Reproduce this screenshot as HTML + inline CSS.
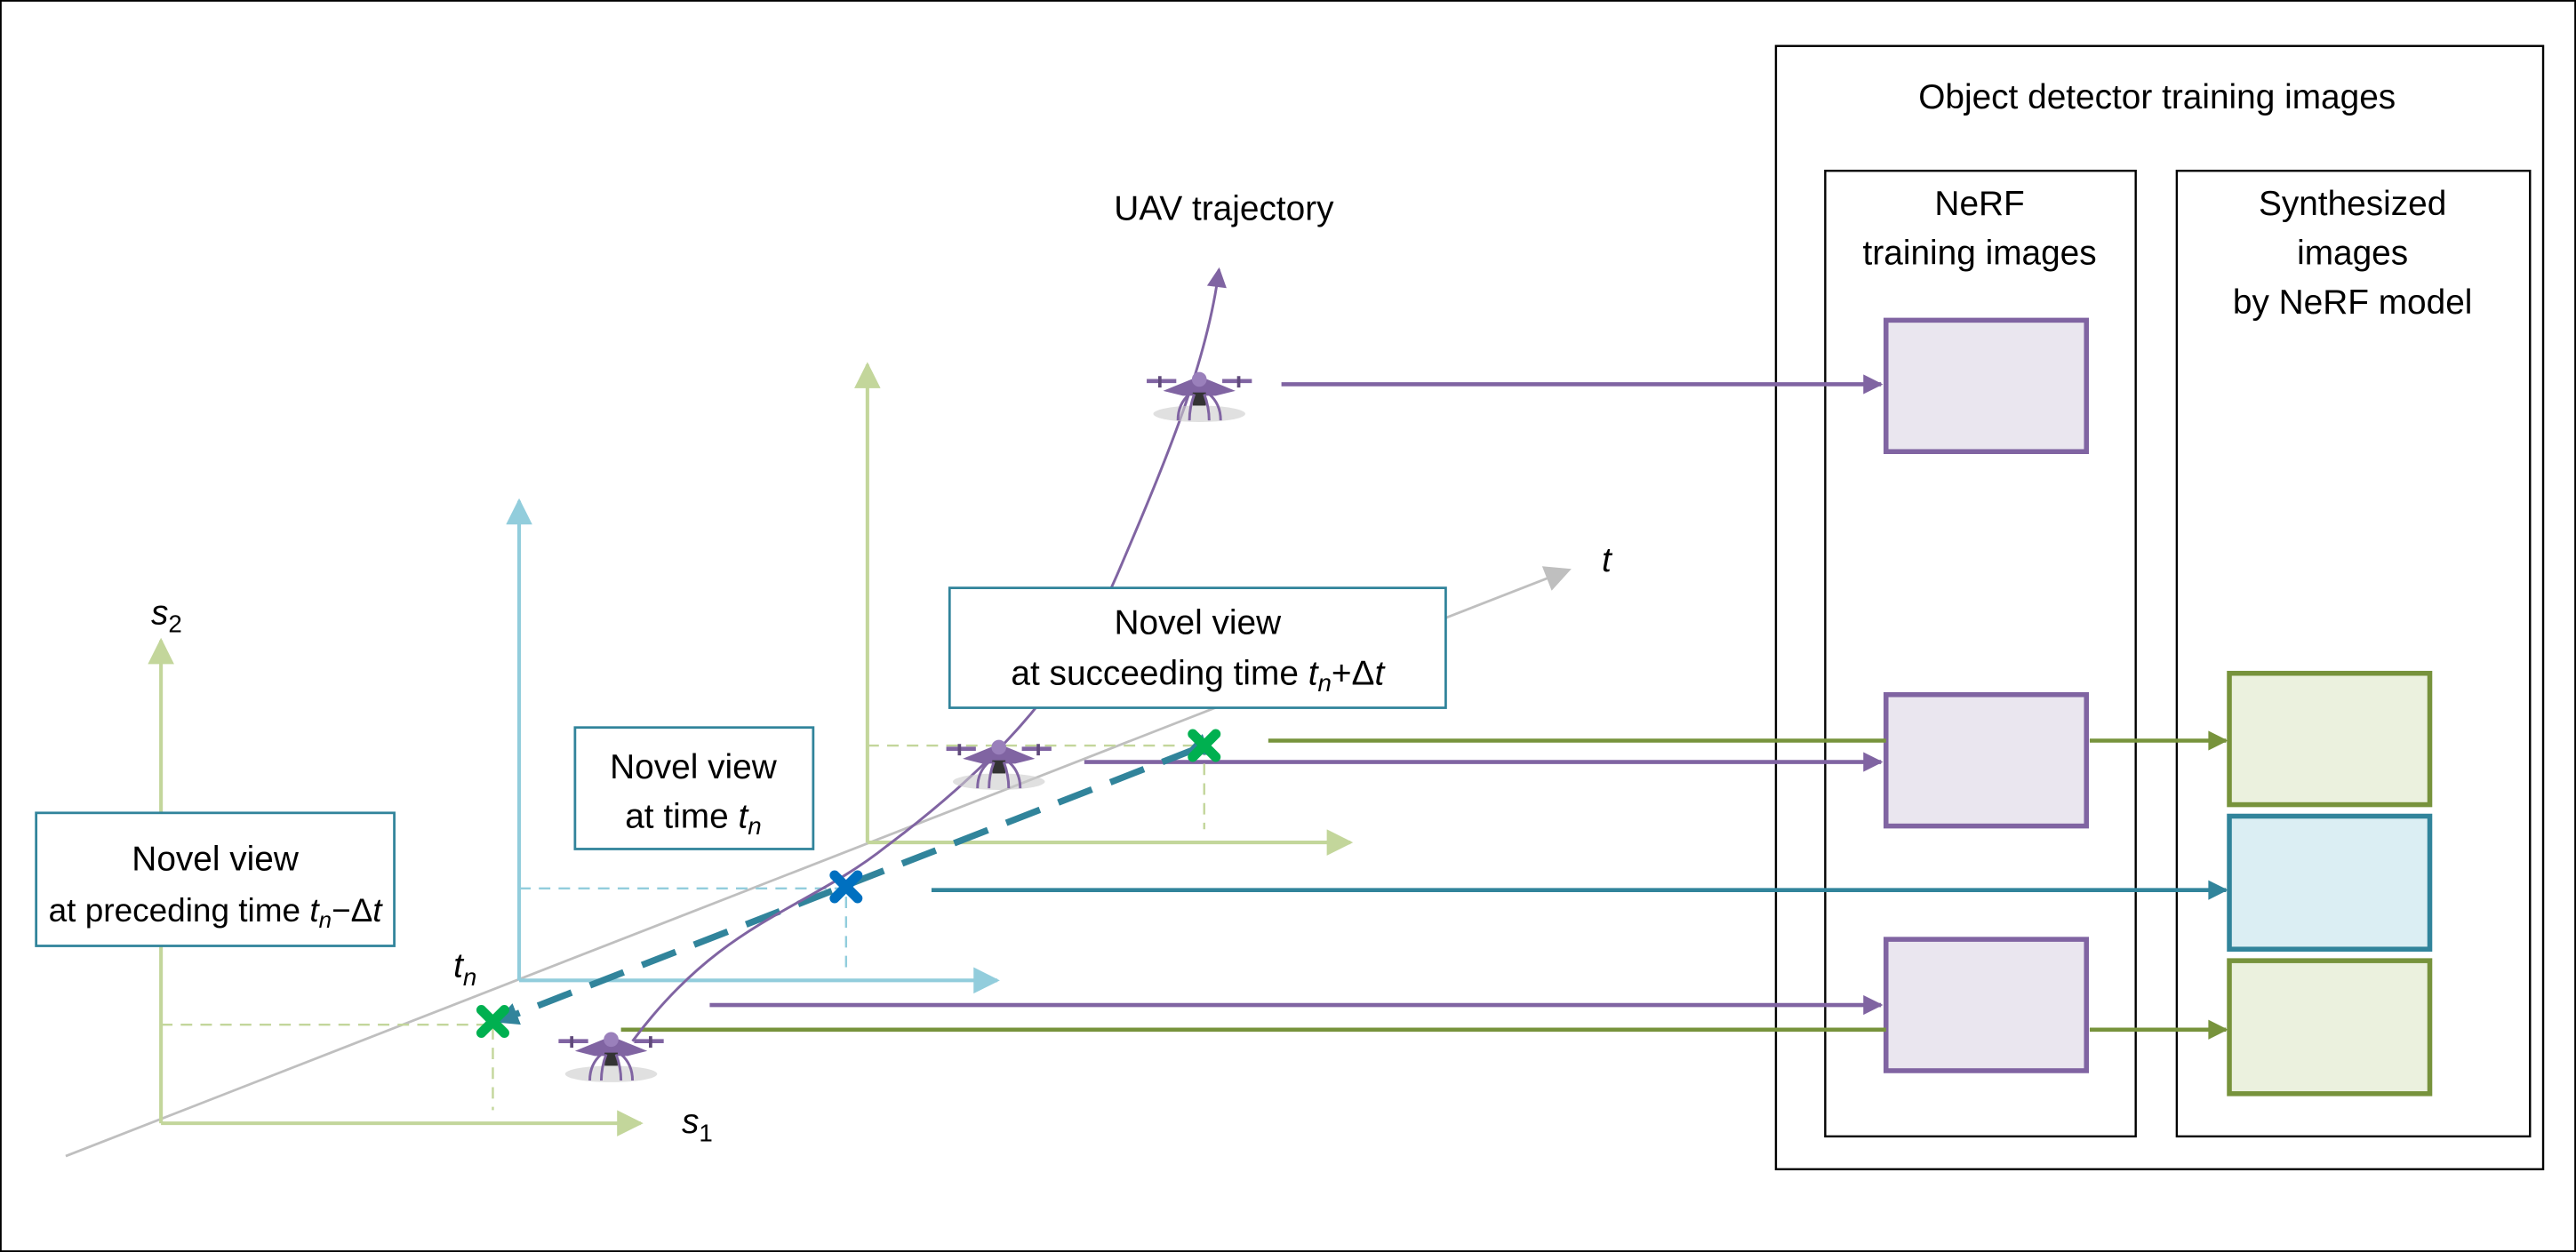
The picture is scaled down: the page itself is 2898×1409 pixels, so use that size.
<!DOCTYPE html>
<html><head><meta charset="utf-8"><style>html,body{margin:0;padding:0;background:#fff}svg{display:block}text{font-family:"Liberation Sans",sans-serif;fill:#000}</style></head><body>
<svg width="2898" height="1409" viewBox="0 0 1568 762.4" preserveAspectRatio="none" xmlns="http://www.w3.org/2000/svg">
<defs>
<marker id="pu" viewBox="0 0 10 10" refX="9" refY="5" markerWidth="14" markerHeight="12" orient="auto" markerUnits="userSpaceOnUse"><path d="M0,0L10,5L0,10z" fill="#8064a2"/></marker>
<marker id="gr" viewBox="0 0 10 10" refX="9" refY="5" markerWidth="14" markerHeight="12" orient="auto" markerUnits="userSpaceOnUse"><path d="M0,0L10,5L0,10z" fill="#77933c"/></marker>
<marker id="te" viewBox="0 0 10 10" refX="9" refY="5" markerWidth="14" markerHeight="12" orient="auto" markerUnits="userSpaceOnUse"><path d="M0,0L10,5L0,10z" fill="#31849b"/></marker>
<marker id="lg" viewBox="0 0 10 10" refX="9" refY="5" markerWidth="18" markerHeight="16" orient="auto" markerUnits="userSpaceOnUse"><path d="M0,0L10,5L0,10z" fill="#c3d69b"/></marker>
<marker id="lb" viewBox="0 0 10 10" refX="9" refY="5" markerWidth="18" markerHeight="16" orient="auto" markerUnits="userSpaceOnUse"><path d="M0,0L10,5L0,10z" fill="#92cddc"/></marker>
<marker id="gy" viewBox="0 0 10 10" refX="9" refY="5" markerWidth="18" markerHeight="16" orient="auto" markerUnits="userSpaceOnUse"><path d="M0,0L10,5L0,10z" fill="#bfbfbf"/></marker>
<marker id="td" viewBox="0 0 10 10" refX="5" refY="5" markerWidth="14" markerHeight="14" orient="auto" markerUnits="userSpaceOnUse"><path d="M0,0L10,5L0,10z" fill="#31849b"/></marker>
<g id="drone">
<ellipse cx="0" cy="16" rx="28" ry="5" fill="#ccc" opacity="0.6"/>
<path d="M-32,-4H-14M14,-4H32" stroke="#8064a2" stroke-width="2.5"/>
<path d="M-24,-7v7M24,-7v7" stroke="#604a7b" stroke-width="2"/>
<path d="M-22,2L0,-7L22,2L10,5L-10,5z" fill="#8064a2"/>
<circle cx="0" cy="-5" r="4.5" fill="#9a80bb"/>
<rect x="-4" y="3" width="8" height="8" fill="#333"/>
<path d="M-6,4Q-13,10-13,20M6,4Q13,10,13,20M-3,4Q-6,12-6,20M3,4Q6,12,6,20" stroke="#8064a2" stroke-width="1.6" fill="none"/>
</g>
</defs>
<rect x="0.5" y="0.5" width="1567" height="761.4" fill="none" stroke="#000" stroke-width="1"/>

<rect x="1081" y="28" width="467" height="684" fill="none" stroke="#000" stroke-width="1.3"/>
<text x="1313" y="66" font-size="21" text-anchor="middle">Object detector training images</text>
<rect x="1111" y="104" width="189" height="588" fill="none" stroke="#000" stroke-width="1.3"/>
<text x="1205" y="131" font-size="21" text-anchor="middle">NeRF</text>
<text x="1205" y="161" font-size="21" text-anchor="middle">training images</text>
<rect x="1325" y="104" width="215" height="588" fill="none" stroke="#000" stroke-width="1.3"/>
<text x="1432" y="131" font-size="21" text-anchor="middle">Synthesized</text>
<text x="1432" y="161" font-size="21" text-anchor="middle">images</text>
<text x="1432" y="191" font-size="21" text-anchor="middle">by NeRF model</text>
<g stroke-width="3">
<rect x="1148" y="195" width="122" height="80" fill="#eae6ef" stroke="#8064a2"/>
<rect x="1148" y="423" width="122" height="80" fill="#eae6ef" stroke="#8064a2"/>
<rect x="1148" y="572" width="122" height="80" fill="#eae6ef" stroke="#8064a2"/>
<rect x="1357" y="410" width="122" height="80" fill="#ebf1de" stroke="#77933c"/>
<rect x="1357" y="497" width="122" height="81" fill="#dbeef3" stroke="#31849b"/>
<rect x="1357" y="585" width="122" height="81" fill="#ebf1de" stroke="#77933c"/>
</g>
<g stroke-width="2.5" fill="none">
<line x1="780" y1="234" x2="1145" y2="234" stroke="#8064a2" marker-end="url(#pu)"/>
<line x1="772" y1="451" x2="1148" y2="451" stroke="#77933c"/>
<line x1="1272" y1="451" x2="1355" y2="451" stroke="#77933c" marker-end="url(#gr)"/>
<line x1="660" y1="464" x2="1145" y2="464" stroke="#8064a2" marker-end="url(#pu)"/>
<line x1="567" y1="542" x2="1355" y2="542" stroke="#31849b" marker-end="url(#te)"/>
<line x1="432" y1="612" x2="1145" y2="612" stroke="#8064a2" marker-end="url(#pu)"/>
<line x1="378" y1="627" x2="1148" y2="627" stroke="#77933c"/>
<line x1="1272" y1="627" x2="1355" y2="627" stroke="#77933c" marker-end="url(#gr)"/>
</g>

<line x1="40" y1="704" x2="955" y2="347" stroke="#bfbfbf" stroke-width="1.5" marker-end="url(#gy)"/>
<text x="975" y="348" font-size="21" font-style="italic">t</text>
<g stroke-width="2.2" fill="none">
<line x1="98" y1="684" x2="98" y2="390" stroke="#c3d69b" marker-end="url(#lg)"/>
<line x1="98" y1="684" x2="390" y2="684" stroke="#c3d69b" marker-end="url(#lg)"/>
<line x1="316" y1="597" x2="316" y2="305" stroke="#92cddc" marker-end="url(#lb)"/>
<line x1="316" y1="597" x2="607" y2="597" stroke="#92cddc" marker-end="url(#lb)"/>
<line x1="528" y1="513" x2="528" y2="222" stroke="#c3d69b" marker-end="url(#lg)"/>
<line x1="528" y1="513" x2="822" y2="513" stroke="#c3d69b" marker-end="url(#lg)"/>
</g>
<text x="92" y="380" font-size="21" font-style="italic">s<tspan font-size="15" font-style="normal" dy="5">2</tspan></text>
<text x="415" y="690" font-size="21" font-style="italic">s<tspan font-size="15" font-style="normal" dy="5">1</tspan></text>
<text x="276" y="595" font-size="21" font-style="italic">t<tspan font-size="15" dy="5">n</tspan></text>
<g stroke-width="1.3" stroke-dasharray="7,5" fill="none">
<path d="M98,624H300V676" stroke="#c3d69b"/>
<path d="M316,541H515V592" stroke="#92cddc"/>
<path d="M528,454H733V505" stroke="#c3d69b"/>
</g>
<line x1="728" y1="456" x2="308" y2="620" stroke="#31849b" stroke-width="4" stroke-dasharray="22,12" marker-end="url(#td)" marker-start="url(#td)"/>
<path d="M385,634 C440,560 490,555 540,515 C600,470 650,420 680,350 C710,280 735,220 742,164" stroke="#8064a2" stroke-width="1.6" fill="none" marker-end="url(#pu)"/>
<text x="745" y="134" font-size="21" text-anchor="middle">UAV trajectory</text>
<g stroke-width="6" stroke-linecap="round">
<path d="M293,615L307,629M307,615L293,629" stroke="#00b050"/>
<path d="M508,533L522,547M522,533L508,547" stroke="#0070c0"/>
<path d="M726,447L740,461M740,447L726,461" stroke="#00b050"/>
</g>
<use href="#drone" x="372" y="638"/>
<use href="#drone" x="608" y="460"/>
<use href="#drone" x="730" y="236"/>
<g fill="#fff" stroke="#31849b" stroke-width="1.5">
<rect x="22" y="495" width="218" height="81"/>
<rect x="350" y="443" width="145" height="74"/>
<rect x="578" y="358" width="302" height="73"/>
</g>
<text x="131" y="530" font-size="21" text-anchor="middle">Novel view</text>
<text x="131" y="561" font-size="20" text-anchor="middle">at preceding time <tspan font-style="italic">t</tspan><tspan font-size="14" font-style="italic" dy="4">n</tspan><tspan dy="-4">−Δ</tspan><tspan font-style="italic">t</tspan></text>
<text x="422" y="474" font-size="21" text-anchor="middle">Novel view</text>
<text x="422" y="504" font-size="21" text-anchor="middle">at time <tspan font-style="italic">t</tspan><tspan font-size="15" font-style="italic" dy="4">n</tspan></text>
<text x="729" y="386" font-size="21" text-anchor="middle">Novel view</text>
<text x="729" y="417" font-size="21" text-anchor="middle">at succeeding time <tspan font-style="italic">t</tspan><tspan font-size="15" font-style="italic" dy="4">n</tspan><tspan dy="-4">+Δ</tspan><tspan font-style="italic">t</tspan></text>
</svg>
</body></html>
